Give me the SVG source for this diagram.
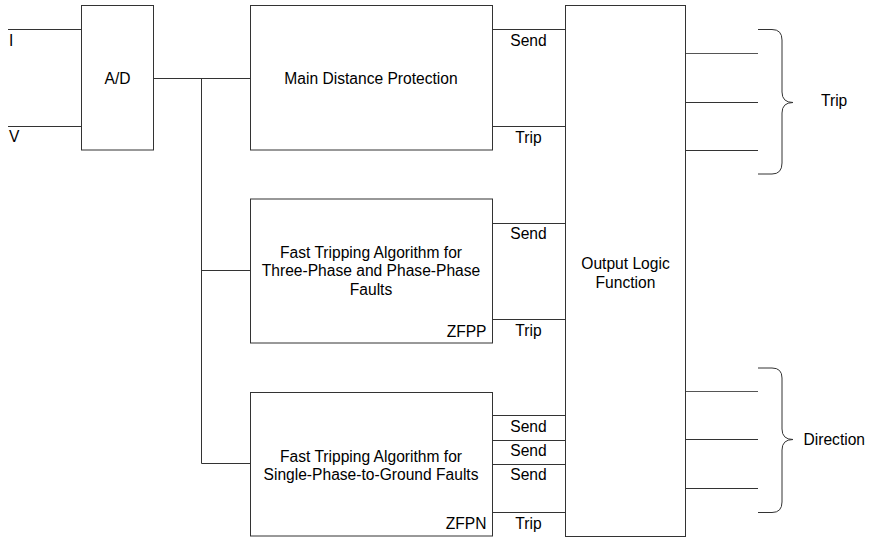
<svg xmlns="http://www.w3.org/2000/svg" width="869" height="540" viewBox="0 0 869 540">
<style>
.b{fill:#fff;stroke:#333;stroke-width:1}
.l{fill:none;stroke:#333;stroke-width:1}
.g{fill:none;stroke:#555;stroke-width:1}
text{font-family:"Liberation Sans",Arial,sans-serif;font-size:15.6px;fill:#000}
.c{text-anchor:middle}
.r{text-anchor:end}
</style>
<rect width="869" height="540" fill="#fff"/>
<g id="connectors">
<line class="l" x1="8" y1="29.5" x2="81" y2="29.5"/>
<line class="l" x1="8" y1="126.5" x2="81" y2="126.5"/>
<line class="l" x1="154" y1="78.5" x2="250" y2="78.5"/>
<polyline class="l" points="201.5,78.5 201.5,463.5 250,463.5"/>
<line class="l" x1="201.5" y1="270.5" x2="250" y2="270.5"/>
<line class="l" x1="492" y1="29.5" x2="565" y2="29.5"/>
<line class="l" x1="492" y1="126.5" x2="565" y2="126.5"/>
<line class="l" x1="492" y1="223.5" x2="565" y2="223.5"/>
<line class="l" x1="492" y1="319.5" x2="565" y2="319.5"/>
<line class="l" x1="492" y1="415.5" x2="565" y2="415.5"/>
<line class="l" x1="492" y1="440.5" x2="565" y2="440.5"/>
<line class="l" x1="492" y1="464.5" x2="565" y2="464.5"/>
<line class="l" x1="492" y1="512.5" x2="565" y2="512.5"/>
<line class="g" x1="685" y1="53.5" x2="758" y2="53.5"/>
<line class="l" x1="685" y1="102.5" x2="758" y2="102.5"/>
<line class="l" x1="685" y1="150.5" x2="758" y2="150.5"/>
<line class="g" x1="685" y1="391.5" x2="758" y2="391.5"/>
<line class="l" x1="685" y1="439.5" x2="758" y2="439.5"/>
<line class="l" x1="685" y1="488.5" x2="758" y2="488.5"/>
</g>
<g id="inputs">
<text x="9" y="46">I</text>
<text x="9" y="142">V</text>
</g>
<g id="ad">
<rect class="b" x="81.5" y="5.5" width="72" height="144.5"/>
<text class="c" x="117.5" y="84">A/D</text>
</g>
<g id="main">
<rect class="b" x="250.5" y="5.5" width="242" height="144.5"/>
<text class="c" x="371" y="84">Main Distance Protection</text>
<text class="c" x="528.5" y="46">Send</text>
<text class="c" x="528.5" y="142.5">Trip</text>
</g>
<g id="zfpp">
<rect class="b" x="250.5" y="199" width="242" height="144"/>
<text class="c" x="371" y="257.5">Fast Tripping Algorithm for</text>
<text class="c" x="371" y="276">Three-Phase and Phase-Phase</text>
<text class="c" x="371" y="294.5">Faults</text>
<text class="r" x="486.5" y="336.5">ZFPP</text>
<text class="c" x="528.5" y="239">Send</text>
<text class="c" x="528.5" y="336">Trip</text>
</g>
<g id="zfpn">
<rect class="b" x="250.5" y="392.5" width="242" height="143.5"/>
<text class="c" x="371" y="461.5">Fast Tripping Algorithm for</text>
<text class="c" x="371" y="480">Single-Phase-to-Ground Faults</text>
<text class="r" x="486.5" y="529">ZFPN</text>
<text class="c" x="528.5" y="432">Send</text>
<text class="c" x="528.5" y="456">Send</text>
<text class="c" x="528.5" y="480">Send</text>
<text class="c" x="528.5" y="529">Trip</text>
</g>
<g id="output">
<rect class="b" x="565.5" y="5.5" width="120" height="531"/>
<text class="c" x="625.5" y="269">Output Logic</text>
<text class="c" x="625.5" y="287.5">Function</text>
</g>
<g id="trip-brace">
<path class="l" d="M758,29.5 H772 Q782,29.5 782,40 V92 Q782,102.5 793,102.5 Q782,102.5 782,113 V163 Q782,174 772,174 H758"/>
<text x="821" y="106">Trip</text>
</g>
<g id="direction-brace">
<path class="l" d="M758,368 H772 Q782,368 782,378 V429 Q782,439.5 793,439.5 Q782,439.5 782,450 V502 Q782,512.5 772,512.5 H758"/>
<text x="803.5" y="445">Direction</text>
</g>
</svg>
